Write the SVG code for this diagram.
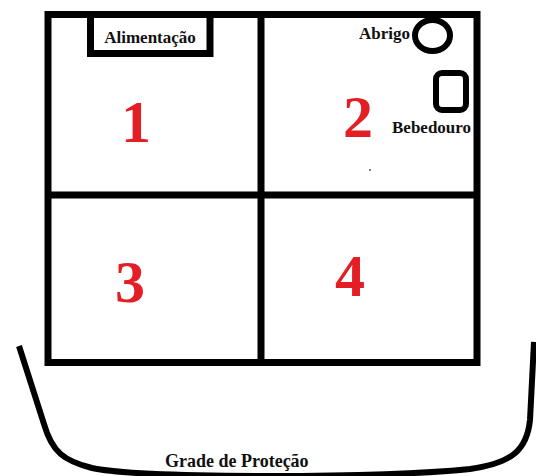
<svg xmlns="http://www.w3.org/2000/svg" width="536" height="476" viewBox="0 0 536 476">
<style>
.ln{fill:none;stroke:#000;stroke-width:7}
.lbl{font-family:"Liberation Serif","Times New Roman",serif;font-weight:bold;font-size:17px;fill:#111}
.num{font-family:"Liberation Serif","Times New Roman",serif;font-weight:bold;font-size:60px;fill:#e31e24;text-anchor:middle}
</style>
<rect width="536" height="476" fill="#fff"/>
<g id="frame">
<rect class="ln" x="48" y="14.5" width="429" height="348"/>
<line class="ln" x1="261" y1="14.5" x2="261" y2="366"/>
<line class="ln" x1="48" y1="195" x2="477" y2="195"/>
</g>
<g id="cell1"><text class="num" x="136" y="142">1</text></g>
<g id="cell2"><text class="num" x="358" y="137">2</text><circle cx="370" cy="170" r="1" fill="#555"/></g>
<g id="cell3"><text class="num" x="130" y="302">3</text></g>
<g id="cell4"><text class="num" x="350" y="296">4</text></g>
<g id="alimentacao">
<rect class="ln" x="90.5" y="14.5" width="119.5" height="39" fill="#fff"/>
<text class="lbl" x="150" y="43" text-anchor="middle">Alimentação</text>
</g>
<g id="abrigo">
<text class="lbl" x="359" y="39">Abrigo</text>
<ellipse cx="432.5" cy="35.5" rx="17.5" ry="15.5" fill="none" stroke="#000" stroke-width="6"/>
</g>
<g id="bebedouro">
<rect x="436" y="73" width="30" height="37" rx="6" fill="none" stroke="#000" stroke-width="6"/>
<text class="lbl" x="392" y="133">Bebedouro</text>
</g>
<g id="grade">
<path d="M19,346 L44,424 C52,452 64,461 92,468 C125,475 200,476 270,476 C350,476 420,474 470,469 C512,463 527,450 530,420 L534,342" fill="none" stroke="#000" stroke-width="6"/>
<text class="lbl" x="165" y="467" style="font-size:18px">Grade de Proteção</text>
</g>
</svg>
